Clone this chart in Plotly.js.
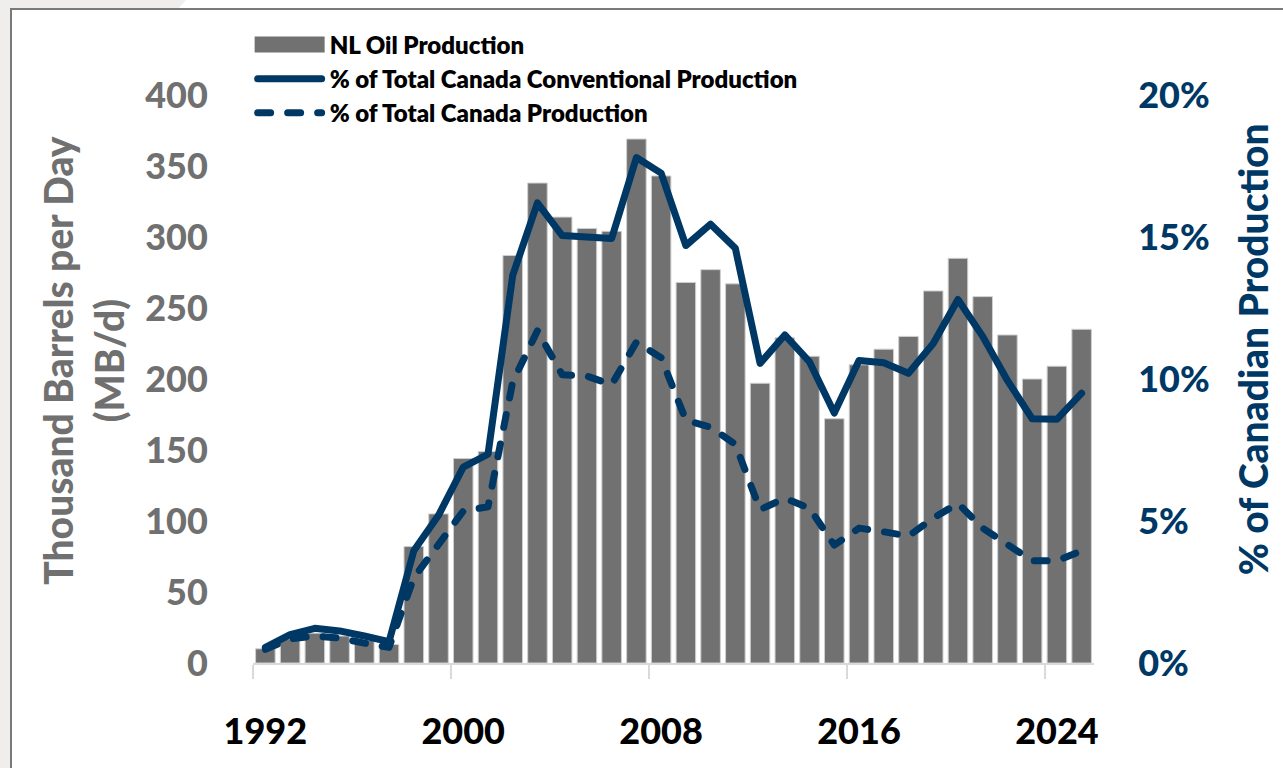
<!DOCTYPE html>
<html>
<head>
<meta charset="utf-8">
<script src="https://cdn.plot.ly/plotly-3.0.1.min.js"></script>
<style>
  html, body { margin: 0; padding: 0; }
  body { width: 1283px; height: 768px; overflow: hidden; background: #efeeec; position: relative; font-family: Lato, "Open Sans", sans-serif; }
  #topwhite { position: absolute; left: 0; top: 0; width: 1283px; height: 9px; background: #ffffff;
              clip-path: polygon(186px 0, 100% 0, 100% 100%, 178px 100%); }
  #frame { position: absolute; left: 10px; top: 8px; width: 1283px; height: 770px; background: #ffffff;
           border-left: 2px solid #7a7a7a; border-top: 2px solid #7a7a7a; }
  #chart { position: absolute; left: 0; top: 0; width: 1283px; height: 768px; }
</style>
</head>
<body>
<div id="topwhite"></div>
<div id="frame"></div>
<div id="chart"></div>
<script>
// ---- data ----
const years = [1992,1993,1994,1995,1996,1997,1998,1999,2000,2001,2002,2003,2004,2005,2006,2007,2008,
               2009,2010,2011,2012,2013,2014,2015,2016,2017,2018,2019,2020,2021,2022,2023,2024,2025];
const nlOilProduction = [10,17,21,19,16,13,82,105,144,149,287,338,314,306,304,369,343,
                         268,277,267,197,229,216,172,210,221,230,262,285,258,231,200,209,235];
const pctConventional = [0.55,1.0,1.22,1.13,0.95,0.75,3.95,5.2,6.9,7.35,13.65,16.2,15.05,15.0,14.95,17.8,17.25,
                         14.7,15.45,14.6,10.55,11.55,10.6,8.8,10.65,10.57,10.2,11.25,12.8,11.5,9.95,8.6,8.58,9.5];
const pctTotal = [0.48,0.85,0.95,0.88,0.7,0.55,3.0,4.2,5.35,5.5,9.9,11.7,10.15,10.1,9.8,11.3,10.75,
                  8.55,8.3,7.7,5.4,5.8,5.45,4.15,4.75,4.62,4.47,5.1,5.62,4.75,4.15,3.6,3.6,3.95];
const xTickYears = [1992,2000,2008,2016,2024];
const xBoundaryTicks = [1991.5,1999.5,2007.5,2015.5,2023.5];
const leftTicks = [0,50,100,150,200,250,300,350,400];
const rightTicks = [0,5,10,15,20];

const NAVY = '#003865';
const GRAY_BAR = '#717171';
const GRAY_TXT = '#707070';
const FONT = 'Lato, "Open Sans", sans-serif';

const traces = [
  {
    type: 'bar', name: 'NL Oil Production', x: years, y: nlOilProduction,
    marker: { color: GRAY_BAR, line: { color: '#cfcfcf', width: 1 } },
    legend: 'legend', hoverinfo: 'skip'
  },
  {
    type: 'scatter', mode: 'lines', name: '% of Total Canada Conventional Production',
    x: years, y: pctConventional, yaxis: 'y2',
    line: { color: NAVY, width: 7 }, legend: 'legend2', hoverinfo: 'skip'
  },
  {
    type: 'scatter', mode: 'lines', name: '% of Total Canada Production',
    x: years, y: pctTotal, yaxis: 'y2',
    line: { color: NAVY, width: 7, dash: '13px,17px' }, legend: 'legend3', hoverinfo: 'skip'
  }
];

const legendBase = {
  x: -0.004, xanchor: 'left', yanchor: 'middle', bgcolor: 'rgba(0,0,0,0)',
  itemwidth: 70, font: { family: FONT, size: 24, color: '#000000', weight: 800 }
};

const layout = {
  width: 1283, height: 768, autosize: false,
  margin: { l: 253, r: 189, t: 95, b: 105, pad: 0 },
  paper_bgcolor: 'rgba(0,0,0,0)', plot_bgcolor: 'rgba(0,0,0,0)',
  bargap: 0.21,
  showlegend: true,
  legend: Object.assign({}, legendBase, { y: 1.088 }),
  legend2: Object.assign({}, legendBase, { y: 1.028 }),
  legend3: Object.assign({}, legendBase, { y: 0.968 }),
  xaxis: {
    range: [1991.5, 2025.5], tickmode: 'array', tickvals: xTickYears,
    ticktext: xTickYears.map(String),
    ticks: 'outside', ticklen: 36, tickcolor: 'rgba(0,0,0,0)',
    tickfont: { family: FONT, size: 36, color: '#000000', weight: 900 },
    showline: true, linecolor: '#d9d9d9', linewidth: 2,
    showgrid: false, zeroline: false, fixedrange: true,
    minor: { tickmode: 'array', tickvals: xBoundaryTicks, ticks: 'outside', ticklen: 14,
             tickcolor: '#d9d9d9', tickwidth: 2, showgrid: false }
  },
  yaxis: {
    range: [0, 400], tickmode: 'array', tickvals: leftTicks,
    ticktext: leftTicks.map(String),
    ticks: 'outside', ticklen: 37, tickcolor: 'rgba(0,0,0,0)',
    tickfont: { family: FONT, size: 36, color: GRAY_TXT, weight: 900 },
    showgrid: false, zeroline: false, showline: false, fixedrange: true
  },
  yaxis2: {
    overlaying: 'y', side: 'right', range: [0, 20], tickmode: 'array', tickvals: rightTicks,
    ticktext: rightTicks.map(v => v + '%'),
    ticks: 'outside', ticklen: 36, tickcolor: 'rgba(0,0,0,0)',
    tickfont: { family: FONT, size: 36, color: NAVY, weight: 900 },
    showgrid: false, zeroline: false, showline: false, fixedrange: true
  },
  annotations: [
    {
      xref: 'paper', yref: 'paper', x: -0.2016, y: 0.533, xanchor: 'center', yanchor: 'middle',
      text: 'Thousand Barrels per Day<br>(MB/d)', textangle: -90, showarrow: false,
      font: { family: FONT, size: 39, color: GRAY_TXT, weight: 900 }
    },
    {
      xref: 'paper', yref: 'paper', x: 1.19, y: 0.552, xanchor: 'center', yanchor: 'middle',
      text: '% of Canadian Production', textangle: -90, showarrow: false,
      font: { family: FONT, size: 39, color: NAVY, weight: 900 }
    }
  ]
};

function polish() {
  document.querySelectorAll('.scatterlayer .js-line, .infolayer .legendlines path').forEach(p => {
    p.style.strokeLinecap = 'round';
    p.style.strokeLinejoin = 'round';
  });
  document.querySelectorAll('.infolayer .legendlines path').forEach(p => {
    p.setAttribute('d', 'M8,0h64');
  });
  document.querySelectorAll('.infolayer .legendpoints path').forEach(p => {
    p.setAttribute('d', 'M5,-8h70v16h-70z');
    p.setAttribute('transform', '');
    p.style.stroke = 'none';
  });
}

Plotly.newPlot('chart', traces, layout, { displayModeBar: false, staticPlot: true })
  .then(polish);
</script>
</body>
</html>
